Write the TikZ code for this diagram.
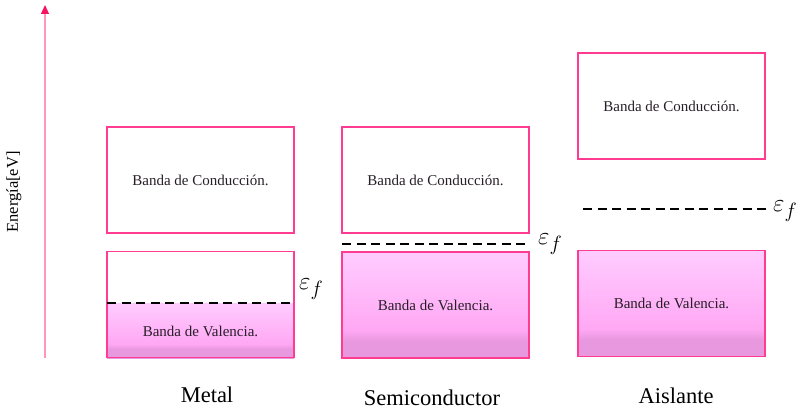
\documentclass[tikz,border=0pt]{standalone}
\usepackage{fontspec}
\setmainfont{Liberation Serif}
\usetikzlibrary{arrows.meta}

\definecolor{bandedge}{RGB}{255,60,145}
\definecolor{axisline}{RGB}{255,150,190}
\definecolor{axistip}{RGB}{245,20,100}
\definecolor{vtop}{RGB}{255,204,255}
\definecolor{vmid}{RGB}{255,168,244}
\definecolor{vbot}{RGB}{232,152,222}
\definecolor{bandtext}{RGB}{40,30,40}

% valence band fill: light pink at the top, deeper towards the bottom
% (the filled path spans the 25bp--75bp part of the shading)
\pgfdeclareverticalshading{valence}{100bp}{color(0bp)=(vbot); color(33bp)=(vbot); color(38bp)=(vmid); color(75bp)=(vtop); color(100bp)=(vtop)}

\tikzset{
  band/.style={draw=bandedge, line width=1.3pt, minimum width=187pt, minimum height=106pt,
    inner sep=0pt, text=bandtext, font=\fontsize{15}{17}\selectfont},
  fermi/.style={draw=black, line width=1.8pt, dash pattern=on 9pt off 5.5pt},
  eflabel/.style={anchor=west, inner sep=0pt, font=\fontsize{28}{30}\selectfont},
  matlabel/.style={font=\fontsize{22.5}{25}\selectfont},
  axis/.style={draw=axisline, line width=1.3pt,
    -{Triangle[length=9pt,width=8pt,color=axistip,fill=axistip]}},
}

\begin{document}
\begin{tikzpicture}[x=1pt,y=-1pt]
\useasboundingbox (0,0) rectangle (798,409);

% energy axis
\coordinate (ax0) at (45,358);
\coordinate (ax1) at (45,5);
\draw[axis] (ax0) -- (ax1);
\node[rotate=90, font=\fontsize{16.5}{18}\selectfont] (elabel) at (14,192) {Energía[eV]};

% ---- Metal ----
\node[band] (mcond) at (200.5,180) {Banda de Conducción.};
\shade[shading=valence] (107,303) rectangle (294,358);
\node[band] (mval) at (200.5,304.5) {};
\node[text=bandtext, font=\fontsize{15}{17}\selectfont] (mvaltxt) at (200.5,331) {Banda de Valencia.};
\coordinate (mf0) at (107,303);
\coordinate (mf1) at (294,303);
\draw[fermi] (mf0) -- (mf1);
\node[eflabel] (mef) at (299,289) {$\varepsilon_f$};
\node[matlabel] (metal) at (207,395) {Metal};

% ---- Semiconductor ----
\node[band] (scond) at (435.5,180) {Banda de Conducción.};
\node[band, shading=valence] (sval) at (435.5,305) {Banda de Valencia.};
\coordinate (sf0) at (342,244);
\coordinate (sf1) at (529,244);
\draw[fermi] (sf0) -- (sf1);
\node[eflabel] (sef) at (538,244) {$\varepsilon_f$};
\node[matlabel] (semi) at (432,398) {Semiconductor};

% ---- Aislante ----
\node[band] (acond) at (671.5,106) {Banda de Conducción.};
\node[band, shading=valence] (aval) at (671.5,303.5) {Banda de Valencia.};
\coordinate (af0) at (583,209);
\coordinate (af1) at (766,209);
\draw[fermi] (af0) -- (af1);
\node[eflabel] (aef) at (773,211) {$\varepsilon_f$};
\node[matlabel] (ais) at (676,396) {Aislante};
\end{tikzpicture}
\end{document}
